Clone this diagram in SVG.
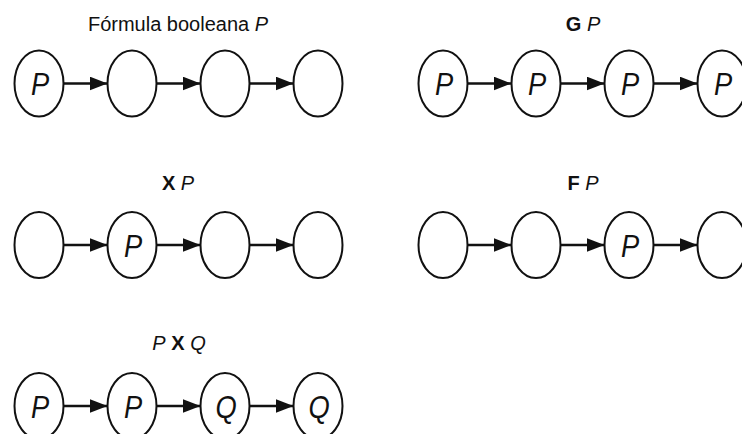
<svg xmlns="http://www.w3.org/2000/svg" width="742" height="434" viewBox="0 0 742 434">
  <style>
    .state { fill: #ffffff; stroke: #111111; stroke-width: 2; }
    .lbl { font-family: "Liberation Sans", Arial, sans-serif; font-size: 31px; font-style: italic; fill: #111111; text-anchor: middle; }
    .title { font-family: "Liberation Sans", Arial, sans-serif; font-size: 20px; fill: #111111; text-anchor: middle; }
    .op { font-weight: bold; }
    .var { font-style: italic; }
    .edge { stroke: #111111; stroke-width: 2.4; fill: none; marker-end: url(#head); }
  </style>
  <defs>
    <marker id="head" markerUnits="userSpaceOnUse" markerWidth="19" markerHeight="14" refX="18" refY="7" orient="auto">
      <path d="M0,0 L18,7 L0,14 Z" fill="#111111"/>
    </marker>
  </defs>
  <rect width="742" height="434" fill="#ffffff"/>

  <!-- headings -->
  <g id="titles">
    <text class="title" x="178" y="31">Fórmula booleana <tspan class="var">P</tspan></text>
    <text class="title" x="583" y="31"><tspan class="op">G</tspan> <tspan class="var">P</tspan></text>
    <text class="title" x="178" y="190"><tspan class="op">X</tspan> <tspan class="var">P</tspan></text>
    <text class="title" x="583" y="190"><tspan class="op">F</tspan> <tspan class="var">P</tspan></text>
    <text class="title" x="179" y="350"><tspan class="var">P</tspan> <tspan class="op">X</tspan> <tspan class="var">Q</tspan></text>
  </g>

  <!-- connectors -->
  <g id="connectors">
    <line class="edge" x1="63.5" y1="83.5" x2="107.5" y2="83.5"/>
    <line class="edge" x1="156.5" y1="83.5" x2="200.5" y2="83.5"/>
    <line class="edge" x1="249.5" y1="83.5" x2="293.5" y2="83.5"/>
    <line class="edge" x1="467.5" y1="83.5" x2="511.5" y2="83.5"/>
    <line class="edge" x1="560.5" y1="83.5" x2="604.5" y2="83.5"/>
    <line class="edge" x1="653.5" y1="83.5" x2="697.5" y2="83.5"/>
    <line class="edge" x1="63.5" y1="245" x2="107.5" y2="245"/>
    <line class="edge" x1="156.5" y1="245" x2="200.5" y2="245"/>
    <line class="edge" x1="249.5" y1="245" x2="293.5" y2="245"/>
    <line class="edge" x1="467.5" y1="245" x2="511.5" y2="245"/>
    <line class="edge" x1="560.5" y1="245" x2="604.5" y2="245"/>
    <line class="edge" x1="653.5" y1="245" x2="697.5" y2="245"/>
    <line class="edge" x1="63.5" y1="406" x2="107.5" y2="406"/>
    <line class="edge" x1="156.5" y1="406" x2="200.5" y2="406"/>
    <line class="edge" x1="249.5" y1="406" x2="293.5" y2="406"/>
  </g>

  <!-- boolean formula P -->
  <g id="b1"><ellipse class="state" cx="39" cy="83.5" rx="24.5" ry="33"/><text class="lbl" transform="translate(40,95) scale(0.88,1)">P</text></g>
  <g id="b2"><ellipse class="state" cx="132" cy="83.5" rx="24.5" ry="33"/></g>
  <g id="b3"><ellipse class="state" cx="225" cy="83.5" rx="24.5" ry="33"/></g>
  <g id="b4"><ellipse class="state" cx="318" cy="83.5" rx="24.5" ry="33"/></g>

  <!-- G P -->
  <g id="g1"><ellipse class="state" cx="443" cy="83.5" rx="24.5" ry="33"/><text class="lbl" transform="translate(444,95) scale(0.88,1)">P</text></g>
  <g id="g2"><ellipse class="state" cx="536" cy="83.5" rx="24.5" ry="33"/><text class="lbl" transform="translate(537,95) scale(0.88,1)">P</text></g>
  <g id="g3"><ellipse class="state" cx="629" cy="83.5" rx="24.5" ry="33"/><text class="lbl" transform="translate(630,95) scale(0.88,1)">P</text></g>
  <g id="g4"><ellipse class="state" cx="722" cy="83.5" rx="24.5" ry="33"/><text class="lbl" transform="translate(723,95) scale(0.88,1)">P</text></g>

  <!-- X P -->
  <g id="x1"><ellipse class="state" cx="39" cy="245" rx="24.5" ry="33"/></g>
  <g id="x2"><ellipse class="state" cx="132" cy="245" rx="24.5" ry="33"/><text class="lbl" transform="translate(133,256.5) scale(0.88,1)">P</text></g>
  <g id="x3"><ellipse class="state" cx="225" cy="245" rx="24.5" ry="33"/></g>
  <g id="x4"><ellipse class="state" cx="318" cy="245" rx="24.5" ry="33"/></g>

  <!-- F P -->
  <g id="f1"><ellipse class="state" cx="443" cy="245" rx="24.5" ry="33"/></g>
  <g id="f2"><ellipse class="state" cx="536" cy="245" rx="24.5" ry="33"/></g>
  <g id="f3"><ellipse class="state" cx="629" cy="245" rx="24.5" ry="33"/><text class="lbl" transform="translate(630,256.5) scale(0.88,1)">P</text></g>
  <g id="f4"><ellipse class="state" cx="722" cy="245" rx="24.5" ry="33"/></g>

  <!-- P X Q -->
  <g id="u1"><ellipse class="state" cx="39" cy="406" rx="24.5" ry="33"/><text class="lbl" transform="translate(40,417.5) scale(0.88,1)">P</text></g>
  <g id="u2"><ellipse class="state" cx="132" cy="406" rx="24.5" ry="33"/><text class="lbl" transform="translate(133,417.5) scale(0.88,1)">P</text></g>
  <g id="u3"><ellipse class="state" cx="225" cy="406" rx="24.5" ry="33"/><text class="lbl" transform="translate(226,417.5) scale(0.88,1)">Q</text></g>
  <g id="u4"><ellipse class="state" cx="318" cy="406" rx="24.5" ry="33"/><text class="lbl" transform="translate(319,417.5) scale(0.88,1)">Q</text></g>
</svg>
